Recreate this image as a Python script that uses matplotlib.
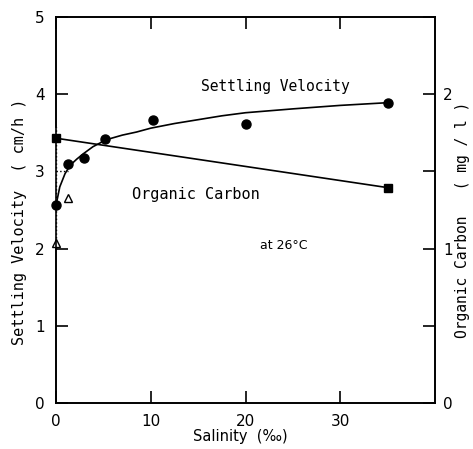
import matplotlib
matplotlib.use("Agg")
import matplotlib.pyplot as plt

# settling velocity (cm/h) vs salinity
sal_sv = [0, 1.3, 3.0, 5.2, 10.2, 20, 35]
sv = [2.56, 3.10, 3.18, 3.42, 3.66, 3.62, 3.89]

# fitted curve
curve_x = [0, 0.4, 0.95, 1.5, 2.2, 2.9, 3.9, 5.3, 7, 8.5, 10, 12.5, 15, 17.5, 20, 25, 30, 35]
curve_y = [2.56, 2.80, 2.97, 3.08, 3.16, 3.23, 3.32, 3.41, 3.47, 3.51, 3.56, 3.62, 3.67, 3.72, 3.76, 3.81, 3.855, 3.89]

# organic carbon (mg/l)
sal_oc = [0, 35]
oc = [1.715, 1.395]
sal_tri = [0, 1.3]
oc_tri = [1.035, 1.33]

fig = plt.figure(figsize=(4.73, 4.49), dpi=100)
ax = fig.add_axes([56 / 473, 46 / 449, 379 / 473, 386 / 449])
ax2 = ax.twinx()

ax.set_xlim(0, 40)
ax.set_ylim(0, 5)
ax2.set_ylim(0, 2.5)

ax.plot(curve_x, curve_y, color="k", lw=1.2, clip_on=False)
ax.plot(sal_sv, sv, "o", color="k", ms=6.5, clip_on=False)
ax2.plot(sal_oc, oc, "s-", color="k", lw=1.2, ms=6, clip_on=False)
ax2.plot(sal_tri, oc_tri, "^", mfc="white", mec="k", mew=1.0, ms=5.5, clip_on=False)

# broken left spine, dotted tick at 3
ax.spines["left"].set_visible(False)
ax.plot([0, 0], [0, 2.0], color="k", lw=1.2, clip_on=False)
ax.plot([0, 0], [2.0, 3.58], color="k", lw=1.0, ls=":", clip_on=False)
ax.plot([0, 0], [3.58, 5], color="k", lw=1.2, clip_on=False)
ax.plot([0, 1.25], [3, 3], color="k", lw=1.0, ls=":", clip_on=False)

for a in (ax, ax2):
    for s in a.spines.values():
        s.set_linewidth(1.2)

mono = "DejaVu Sans Mono"

ax.set_xticks([0, 10, 20, 30])
ax.set_yticks([0, 1, 2, 3, 4, 5])
ax.yaxis.get_major_ticks()[3].tick1line.set_visible(False)
ax.tick_params(axis="both", direction="in", length=8.5, width=1.2, labelsize=11, pad=8)
ax.tick_params(axis="x", top=True)
ax2.set_yticks([0, 0.5, 1, 1.5, 2, 2.5])
ax2.set_yticklabels(["0", "", "1", "", "2", ""])
ax2.tick_params(axis="y", direction="in", length=8.5, width=1.2, labelsize=11, pad=6)

# axis titles
fig.text(240 / 473, 1 - 437 / 449, "Salinity  (‰)", fontsize=10.5, ha="center", va="center")
fig.text(20 / 473, 1 - 222 / 449, "Settling Velocity  ( cm/h )", fontsize=11, family=mono,
         rotation=90, ha="center", va="center")
fig.text(462 / 473, 1 - 220 / 449, "Organic Carbon   ( mg / l )", fontsize=10.5, family=mono,
         rotation=90, ha="center", va="center")

ax.text(23.2, 4.10, "Settling Velocity", fontsize=10.5, family=mono, ha="center", va="center")
ax.text(14.8, 2.70, "Organic Carbon", fontsize=11, family=mono, ha="center", va="center")
ax.text(24.0, 2.04, "at 26°C", fontsize=9, ha="center", va="center")

fig.savefig("out.png", dpi=100)
